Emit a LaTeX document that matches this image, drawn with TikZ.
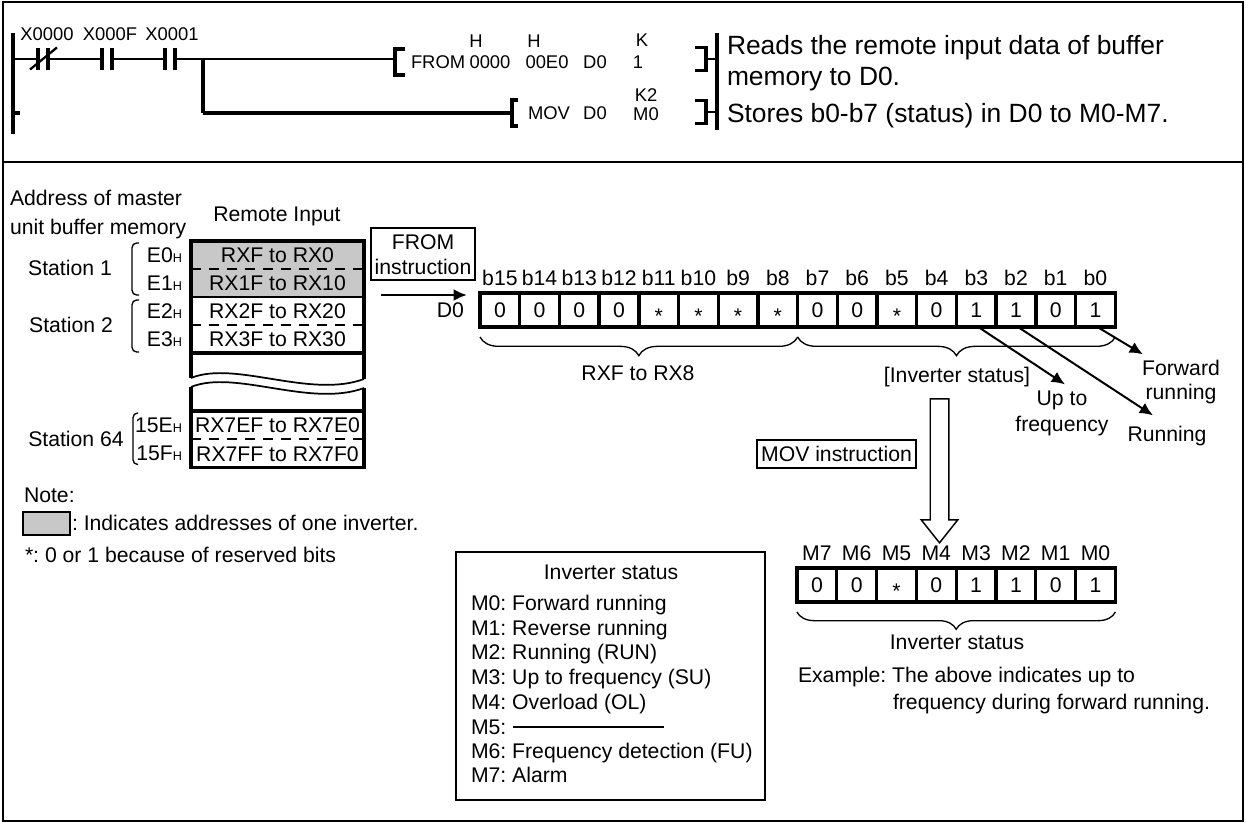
\documentclass[tikz,border=0pt]{standalone}
\usepackage{fontspec}
\setmainfont{Liberation Sans}
\usepackage{tikz}
\usetikzlibrary{arrows.meta,positioning,calc,decorations.pathreplacing,shapes.arrows}
\definecolor{memgray}{RGB}{200,200,200}
\newcommand{\hsub}{{\fontsize{9.5}{10}\selectfont H}}
\frenchspacing

\begin{document}
\begin{tikzpicture}[
      x=0.75pt,y=-0.75pt,
      txt/.style={inner sep=0pt,outer sep=0pt,font=\fontsize{15.9}{18.4}\selectfont,text height=11.4pt,text depth=0pt},
      big/.style={inner sep=0pt,outer sep=0pt,font=\fontsize{19.8}{24}\selectfont,text height=14.1pt,text depth=0pt},
      small/.style={inner sep=0pt,outer sep=0pt,font=\fontsize{13.8}{16}\selectfont,text height=9.9pt,text depth=0pt},
      frameline/.style={line width=1.9pt},
      rail/.style={line width=3pt},
      rung/.style={line width=2pt},
      bar/.style={line width=2.6pt},
      contact/.style={minimum width=7.5pt,minimum height=15.8pt,inner sep=0pt,outer sep=0pt},
      lbrack/.style={minimum width=7.5pt,minimum height=19.5pt,inner sep=0pt,outer sep=0pt},
      rbrack/.style={minimum width=8.25pt,minimum height=17pt,inner sep=0pt,outer sep=0pt},
      row/.style={minimum width=129.75pt,minimum height=21pt,inner sep=0pt,outer sep=0pt,
                  font=\fontsize{15.9}{18.4}\selectfont,text height=11.4pt,text depth=0pt},
      cell/.style={draw,line width=2.5pt,minimum width=29.85pt,minimum height=25.5pt,inner sep=0pt,outer sep=0pt,
                   font=\fontsize{15.9}{18.4}\selectfont,text height=11.4pt,text depth=0pt},
      tagbox/.style={draw,line width=1.1pt,inner sep=0pt,outer sep=0pt,align=center,minimum height=21pt,
                     font=\fontsize{15.9}{18.4}\selectfont},
      curly/.style={decorate,line width=1pt},
      stbrack/.style={line width=1pt,rounded corners=3.5pt},
      arrow/.style={-{Latex[length=10pt,width=9pt]},line width=1.5pt}
  ]
    \useasboundingbox (0,0) rectangle (1246,823);

    \coordinate (ftl) at (3,2);
    \coordinate (fbr) at (1243,821);
    \draw[frameline] (ftl) rectangle (fbr);
    \draw[frameline] (ftl |- 0,162) -- (fbr |- 0,162);

    % ladder
    \coordinate (railL) at (12.5,33);
    \coordinate (railLb) at (12.5,134);
    \coordinate (railR) at (717,33);
    \coordinate (railRb) at (717,130);
    \coordinate (branch) at (203,59);
    \coordinate (branchb) at (203,113);
    \coordinate (stubL) at (20,113);
    \draw[rail] (railL) -- (railLb);
    \draw[rail] (railR) -- (railRb);
    \draw[rail] (railLb |- stubL) -- (stubL);

    \node[contact] (c1) at (43,59) {};
    \node[contact] (c2) at (107,59) {};
    \node[contact] (c3) at (170,59) {};
    \foreach \c in {c1,c2,c3}{
      \draw[bar] (\c.north west) -- (\c.south west);
      \draw[bar] (\c.north east) -- (\c.south east);
    }
    \draw[line width=1.7pt] ($(c1.south west)+(-8,0)$) -- ($(c1.north east)+(9,-1)$);

    \node[lbrack] (lb1) at (400,62) {};
    \node[lbrack,minimum width=4.5pt] (lb2) at (515,113) {};
    \node[rbrack] (rb1) at (700.5,59) {};
    \node[rbrack] (rb2) at (700.5,112) {};
    \foreach \b in {lb1,lb2}
      \draw[bar] (\b.north east) -- (\b.north west) -- (\b.south west) -- (\b.south east);
    \foreach \b in {rb1,rb2}
      \draw[bar] (\b.north west) -- (\b.north east) -- (\b.south east) -- (\b.south west);

    \draw[rung] (railL |- c1) -- (c1.west);
    \draw[rung] (c1.east) -- (c2.west);
    \draw[rung] (c2.east) -- (c3.west);
    \draw[rung] (c3.east) -- (branch) -- (lb1.west |- branch);
    \draw[line width=2.4pt] (branch) -- (branchb);
    \draw[line width=3pt] (branchb) -- (lb2.west);
    \draw[rung] (rb1.east) -- (railR |- rb1);
    \draw[rung] (rb2.east) -- (railR |- rb2);

    \node[small] (x0) at (47,34) {X0000};
    \node[small] (x1) at (110,34) {X000F};
    \node[small] (x2) at (172,34) {X0001};
    \node[small,anchor=west] (from) at (411,62) {FROM};
    \node[small] (h1) at (476,41) {H};
    \node[small] (h2) at (534,41) {H};
    \node[small] (a1) at (490,62) {0000};
    \node[small] (a2) at (547,62) {00E0};
    \node[small] (d1) at (595,62) {D0};
    \node[small] (k1) at (642,40) {K};
    \node[small] (n1) at (638,62) {1};
    \node[small,anchor=west] (mov) at (528,113) {MOV};
    \node[small] (d2) at (595,113) {D0};
    \node[small] (k2) at (646,95) {K2};
    \node[small] (m0) at (646,114) {M0};

    \node[big,anchor=west] (reads) at (727,45) {Reads the remote input data of buffer};
    \node[big,anchor=west] (reads2) at (727,76) {memory to D0.};
    \node[big,anchor=west] (stores) at (727,113) {Stores b0-b7 (status) in D0 to M0-M7.};

    % buffer memory
    \node[txt,anchor=west] (addr1) at (10,198) {Address of master};
    \node[txt,anchor=west] (addr2) at (10,227) {unit buffer memory};
    \node[txt] (remote) at (277,214) {Remote Input};

    \node[row,fill=memgray] (r1) at (277.5,255) {RXF to RX0};
    \node[row,fill=memgray] (r2) at (277.5,283) {RX1F to RX10};
    \node[row] (r3) at (277.5,311) {RX2F to RX20};
    \node[row] (r4) at (277.5,339) {RX3F to RX30};
    \node[row] (r5) at (277.5,425) {RX7EF to RX7E0};
    \node[row] (r6) at (277.5,453.5) {RX7FF to RX7F0};
    \draw[line width=2.6pt] (r1.north west) rectangle (r4.south east);
    \draw[line width=2.6pt] (r5.north west) rectangle (r6.south east);
    \draw[line width=2.2pt] (r2.south west) -- (r2.south east);
    \foreach \r in {r1,r3,r5}
      \draw[line width=2pt,dash pattern=on 7.5pt off 6pt] (\r.south west) -- (\r.south east);

    \coordinate (w1l) at ($(r4.south west)+(0,25)$);
    \coordinate (w1r) at ($(r4.south east)+(0,26)$);
    \coordinate (w2l) at ($(r5.north west)+(0,-24)$);
    \coordinate (w2r) at ($(r5.north east)+(0,-23)$);
    \draw[line width=2.6pt] (r4.south west) -- (w1l);
    \draw[line width=2.6pt] (r4.south east) -- (w1r);
    \draw[line width=2.6pt] (r5.north west) -- (w2l);
    \draw[line width=2.6pt] (r5.north east) -- (w2r);
    \draw[line width=1.3pt] (w1l) .. controls +(44,-18) and +(-54,20) .. (w1r);
    \draw[line width=1.3pt] (w2l) .. controls +(44,-18) and +(-54,20) .. (w2r);

    \node[txt,anchor=east] (e0) at (182,255) {E0\hsub};
    \node[txt,anchor=east] (e1) at (182,283) {E1\hsub};
    \node[txt,anchor=east] (e2) at (182,311) {E2\hsub};
    \node[txt,anchor=east] (e3) at (182,339) {E3\hsub};
    \node[txt,anchor=east] (e4) at (182,425) {15E\hsub};
    \node[txt,anchor=east] (e5) at (182,453) {15F\hsub};

    \node[txt] (st1) at (70,268) {Station 1};
    \node[txt] (st2) at (71,325) {Station 2};
    \node[txt] (st64) at (76,439) {Station 64};
    \draw[stbrack] ($(r1.north west)+(-52,2)$) -- ($(r1.north west)+(-59,2)$) -- ($(r2.south west)+(-59,-2)$) -- ($(r2.south west)+(-52,-2)$);
    \draw[stbrack] ($(r3.north west)+(-52,3)$) -- ($(r3.north west)+(-59,3)$) -- ($(r4.south west)+(-59,-1)$) -- ($(r4.south west)+(-52,-1)$);
    \draw[stbrack] ($(r5.north west)+(-53,2)$) -- ($(r5.north west)+(-58,2)$) -- ($(r6.south west)+(-58,-3)$) -- ($(r6.south west)+(-53,-3)$);

    \node[tagbox,minimum width=78pt,minimum height=39pt] (fromi) at (423,254) {};
    \node[txt] (fromt) at (423,242) {FROM};
    \node[txt] (fromt2) at (423,267) {instruction};

    % register D0
    \foreach \v [count=\i from 0] in {0,0,0,0,\raisebox{-4.5pt}{*},\raisebox{-4.5pt}{*},\raisebox{-4.5pt}{*},\raisebox{-4.5pt}{*},0,0,\raisebox{-4.5pt}{*},0,1,1,0,1}{
      \pgfmathtruncatemacro{\bitno}{15-\i}
      \node[cell] (d\i) at ({499.9+39.7*\i},310) {\v};
      \node[txt,above=5.6pt of d\i] (bl\i) {b\bitno};
    }
    \coordinate (rxstart) at ($(r2.south east)+(17,-2)$);
    \node[txt,anchor=east] (dlabel) at (464,310) {D0};
    \coordinate (dhead) at (d0.west |- rxstart);
    \draw[arrow,line width=1.9pt] (rxstart) -- ($(dhead)+(-13,0)$);

    \draw[curly,decoration={brace,mirror,amplitude=14pt}] ($(d0.south west)+(0,10)$) -- ($(d7.south east)+(0,10)$);
    \draw[curly,decoration={brace,mirror,amplitude=14pt}] ($(d8.south west)+(0,10)$) -- ($(d15.south east)+(0,10)$);
    \node[txt] (rxf) at (638,373) {RXF to RX8};
    \node[txt] (invb) at (957,375) {[Inverter status]};

    \node[txt] (fwd1) at (1181,368) {Forward};
    \node[txt] (fwd2) at (1181,392) {running};
    \node[txt] (up1) at (1062,398) {Up to};
    \node[txt] (up2) at (1062,424) {frequency};
    \node[txt] (runn) at (1167,434) {Running};
    \draw[arrow] ($(d12.south)+(2,0)$) -- ($(up1.north)+(3,-6)$);
    \draw[arrow] ($(d13.south)+(2,0)$) -- ($(runn.north)+(-14,-11)$);
    \draw[arrow] ($(d15.south)+(2,0)$) -- ($(fwd1.north)+(-38,-6)$);

    \node[tagbox,minimum width=119pt] (movi) at (836.5,454) {MOV instruction};
    \node[single arrow,draw,line width=1.1pt,inner sep=6.4pt,outer sep=0pt,shape border rotate=270,
          minimum height=108pt,minimum width=26.25pt,single arrow head extend=6.75pt,single arrow tip angle=77,
          single arrow head indent=0pt] (hollow) at (939.5,465) {};

    % register M
    \foreach \v [count=\i from 0] in {0,0,\raisebox{-4.5pt}{*},0,1,1,0,1}{
      \pgfmathtruncatemacro{\bitno}{7-\i}
      \node[cell] (m\i) at ({816.9+39.8*\i},585) {\v};
      \node[txt,above=5.6pt of m\i] (ml\i) {M\bitno};
    }
    \draw[curly,decoration={brace,mirror,amplitude=13pt}] ($(m0.south west)+(0,10)$) -- ($(m7.south east)+(0,10)$);
    \node[txt] (invs) at (957,642) {Inverter status};
    \node[txt,anchor=west] (ex1) at (798,675) {Example: The above indicates up to};
    \node[txt,anchor=west] (ex2) at (893,702) {frequency during forward running.};

    % notes
    \node[txt,anchor=west] (note) at (24,495) {Note:};
    \node[draw,line width=1.5pt,fill=memgray,minimum width=35.25pt,minimum height=17.25pt,inner sep=0pt,outer sep=0pt] (key) at (46.5,523.5) {};
    \node[txt,anchor=west] (keyt) at (72,523) {: Indicates addresses of one inverter.};
    \node[txt,anchor=west] (res) at (25,555) {*: 0 or 1 because of reserved bits};

    % status box
    \node[draw,line width=2.2pt,minimum width=231.75pt,minimum height=186pt,inner sep=0pt,outer sep=0pt] (statbox) at (610.5,676) {};
    \node[txt] (stat) at (611,572) {Inverter status};
    \node[txt,anchor=west] (s0) at (471,603) {M0: Forward running};
    \node[txt,anchor=west] (s1) at (471,628) {M1: Reverse running};
    \node[txt,anchor=west] (s2) at (471,652) {M2: Running (RUN)};
    \node[txt,anchor=west] (s3) at (471,677) {M3: Up to frequency (SU)};
    \node[txt,anchor=west] (s4) at (471,702) {M4: Overload (OL)};
    \node[txt,anchor=west] (s5) at (471,727) {M5:};
    \node[txt,anchor=west] (s6) at (471,751) {M6: Frequency detection (FU)};
    \node[txt,anchor=west] (s7) at (471,775) {M7: Alarm};
    \coordinate (dashend) at (664,727);
    \draw[line width=1.5pt] ($(s5.east)+(7,0)$) -- (dashend);
  \end{tikzpicture}
\end{document}
